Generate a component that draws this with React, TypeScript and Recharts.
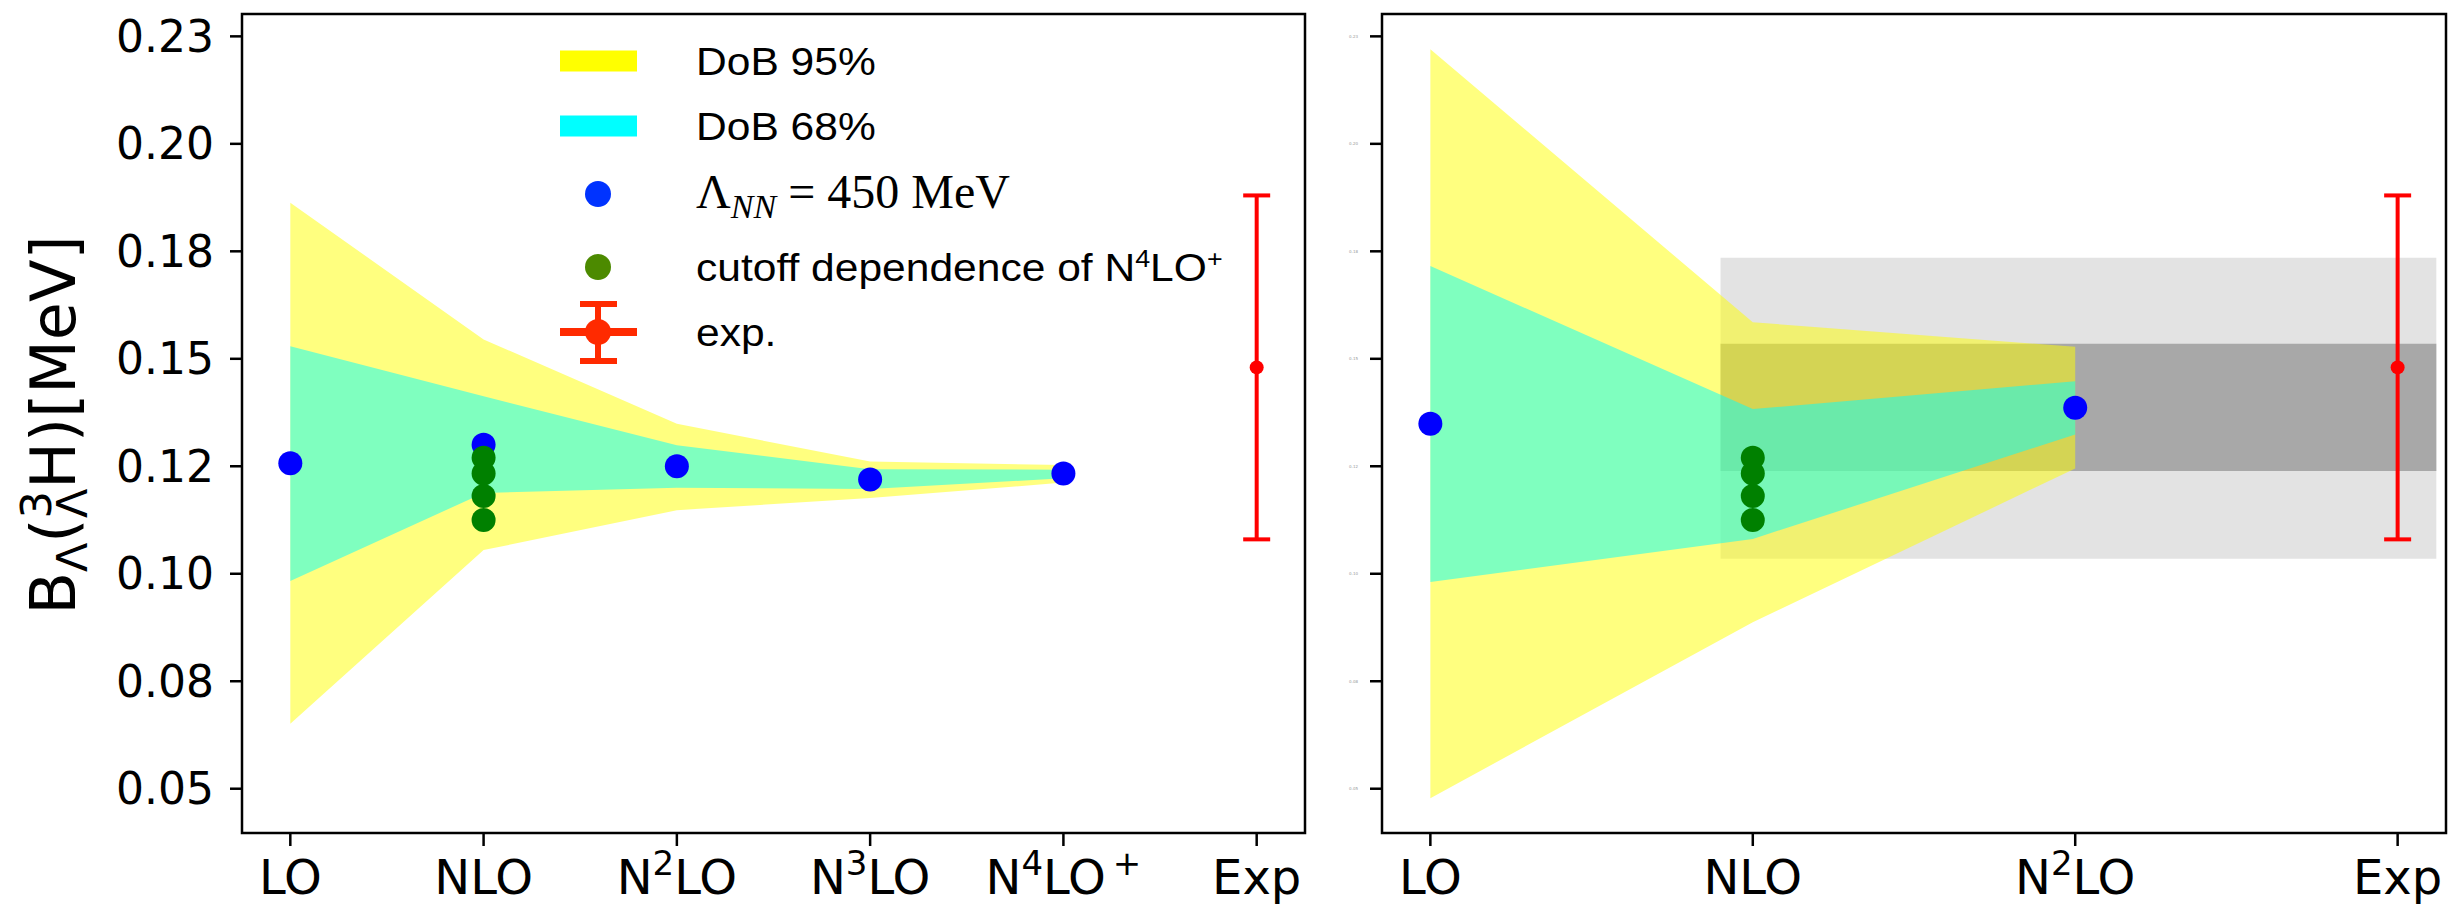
import React from "react";
import {
  Area,
  ComposedChart,
  ErrorBar,
  ReferenceArea,
  Scatter,
  XAxis,
  YAxis,
} from "recharts";

const FONT = "DejaVu Sans, sans-serif";
const LEGEND_FONT = "Liberation Sans, Arial, sans-serif";

/* ============ data ============ */

// orders on the x axis ("^" marks a superscript character)
const leftOrders = ["LO", "NLO", "N^2LO", "N^3LO", "N^4LO^+", "Exp"];
const rightOrders = ["LO", "NLO", "N^2LO", "Exp"];

const yTicks = [0.05, 0.075, 0.1, 0.125, 0.15, 0.175, 0.2, 0.225];
const yTickLabels = ["0.05", "0.08", "0.10", "0.12", "0.15", "0.18", "0.20", "0.23"];
const yDomain = [0.0397, 0.2302];

// Λ_NN = 450 MeV results, LO .. N4LO+
const leftCentral = [0.1257, 0.13, 0.125, 0.1219, 0.1233];
const leftDob95Low = [0.0651, 0.1055, 0.1148, 0.1176, 0.1212];
const leftDob95High = [0.1863, 0.1545, 0.1349, 0.1261, 0.1253];
const leftDob68Low = [0.0983, 0.1188, 0.12, 0.1197, 0.1222];
const leftDob68High = [0.1529, 0.1413, 0.1299, 0.1243, 0.1242];

// N4LO+ for the other cutoffs, drawn at the NLO position
const cutoffN4LO = [0.127, 0.1233, 0.1181, 0.1125];

// right panel: LO .. N2LO
const rightCentralOrder = [0, 2];
const rightCentral = [0.1349, 0.1386];
const rightDob95Low = [0.0478, 0.0887, 0.1245];
const rightDob95High = [0.222, 0.1585, 0.1528];
const rightDob68Low = [0.0981, 0.1081, 0.1324];
const rightDob68High = [0.1716, 0.1383, 0.1448];

// grey boxes behind the right panel bands
const greyBoxX = [0.9, 3.12];
const greyOuter = [0.1035, 0.1735];
const greyInner = [0.1239, 0.1535];

const expValue = 0.148;
const expError = 0.04;

/* ============ helpers ============ */

const leftRows = leftCentral.map((_, i) => ({
  x: i,
  dob95: [leftDob95Low[i], leftDob95High[i]],
  dob68: [leftDob68Low[i], leftDob68High[i]],
}));

const rightRows = [
  ...rightDob95Low.map((lo, i) => ({
    x: i,
    dob95: [lo, rightDob95High[i]],
    dob68: [rightDob68Low[i], rightDob68High[i]],
  })),
  ...greyBoxX.map((x) => ({ x, outer: greyOuter, inner: greyInner })),
].sort((a, b) => a.x - b.x);

const leftPoints = leftCentral.map((y, i) => ({ x: i, y }));
const rightPoints = rightCentral.map((y, i) => ({ x: rightCentralOrder[i], y }));
const cutoffPoints = cutoffN4LO.map((y) => ({ x: 1, y }));

const dot = (r: number, fill: string) => (p: any) =>
  <circle cx={p.cx} cy={p.cy} r={r} fill={fill} />;

function splitSup(label: string) {
  const parts: { text: string; sup: boolean }[] = [];
  for (let i = 0; i < label.length; i++) {
    if (label[i] === "^") {
      parts.push({ text: label[i + 1], sup: true });
      i++;
    } else if (parts.length && !parts[parts.length - 1].sup) {
      parts[parts.length - 1].text += label[i];
    } else {
      parts.push({ text: label[i], sup: false });
    }
  }
  return parts;
}

function OrderTick(props: any) {
  const { x, y, payload, labels } = props;
  const parts = splitSup(labels[payload.value] ?? "");
  let level = 0;
  // baseline sits one cap height below the tick label position
  return (
    <text x={x} y={y + 34} textAnchor="middle" fontFamily={FONT} fontSize={48} fill="#000">
      {parts.map((p, i) => {
        const target = p.sup ? -19 : 0;
        const dy = target - level;
        level = target;
        return (
          <tspan key={i} dy={dy} dx={p.sup && p.text === "+" ? 7 : 0} fontSize={p.sup ? 34 : 48}>
            {p.text}
          </tspan>
        );
      })}
    </text>
  );
}

const axisStroke = { stroke: "#000", strokeWidth: 2.5 };

/* ============ panels ============ */

function Panel({
  rows,
  orders,
  points,
  width,
  yAxisWidth,
  right,
  tiny,
  withGrey,
}: {
  rows: any[];
  orders: string[];
  points: { x: number; y: number }[];
  width: number;
  yAxisWidth: number;
  right: number;
  tiny: boolean;
  withGrey: boolean;
}) {
  const last = orders.length - 1;
  const pad = last === 5 ? 0.25 : 0.15;
  const xDomain = [-pad, last + pad];
  return (
    <ComposedChart
      width={width}
      height={904}
      data={rows}
      margin={{ top: 14, right, bottom: 0, left: 0 }}
    >
      <XAxis
        dataKey="x"
        type="number"
        domain={xDomain}
        ticks={orders.map((_, i) => i)}
        interval={0}
        allowDataOverflow
        axisLine={false}
        tickLine={axisStroke}
        tickSize={13}
        tickMargin={14}
        height={71}
        tick={<OrderTick labels={orders} />}
      />
      <YAxis
        dataKey="y"
        type="number"
        domain={yDomain}
        ticks={yTicks}
        interval={0}
        allowDataOverflow
        width={yAxisWidth}
        axisLine={false}
        tickLine={axisStroke}
        tickSize={12}
        tickMargin={tiny ? 12 : 16}
        tickFormatter={(v: number) => yTickLabels[yTicks.indexOf(v)]}
        tick={
          tiny
            ? { fontSize: 4, fill: "#999", fontFamily: FONT }
            : { fontSize: 44, fill: "#000", fontFamily: FONT }
        }
      />
      {withGrey && (
        <Area
          dataKey="outer"
          type="linear"
          fill="#e3e3e3"
          fillOpacity={1}
          stroke="none"
          connectNulls
          isAnimationActive={false}
        />
      )}
      {withGrey && (
        <Area
          dataKey="inner"
          type="linear"
          fill="#a8a8a8"
          fillOpacity={1}
          stroke="none"
          connectNulls
          isAnimationActive={false}
        />
      )}
      <Area
        dataKey="dob95"
        type="linear"
        fill="#ffff00"
        fillOpacity={0.5}
        stroke="none"
        connectNulls
        isAnimationActive={false}
      />
      <Area
        dataKey="dob68"
        type="linear"
        fill="#00ffff"
        fillOpacity={0.5}
        stroke="none"
        connectNulls
        isAnimationActive={false}
      />
      <Scatter data={points} shape={dot(12, "#0000ff")} isAnimationActive={false} />
      <Scatter data={cutoffPoints} shape={dot(12, "#008000")} isAnimationActive={false} />
      <Scatter
        data={[{ x: last, y: expValue, err: expError }]}
        shape={dot(7, "#ff0000")}
        isAnimationActive={false}
      >
        <ErrorBar
          dataKey="err"
          direction="y"
          width={13.5}
          stroke="#ff0000"
          strokeWidth={4}
          isAnimationActive={false}
        />
      </Scatter>
      <ReferenceArea
        x1={xDomain[0]}
        x2={xDomain[1]}
        y1={yDomain[0]}
        y2={yDomain[1]}
        fill="none"
        stroke="#000"
        strokeWidth={2.5}
        ifOverflow="visible"
      />
    </ComposedChart>
  );
}

/* ============ legend + axis title ============ */

function Overlay() {
  const txt = (y: number, children: React.ReactNode) => (
    <text
      transform={`translate(696, ${y}) scale(1.12, 1)`}
      fontFamily={LEGEND_FONT}
      fontSize={38}
      fill="#000"
    >
      {children}
    </text>
  );
  return (
    <svg
      width={2457}
      height={904}
      style={{ position: "absolute", left: 0, top: 0, pointerEvents: "none" }}
    >
      {/* y axis title */}
      <text
        x={75}
        y={425}
        transform="rotate(-90 75 425)"
        textAnchor="middle"
        fontFamily={FONT}
        fontSize={62}
        fill="#000"
      >
        B
        <tspan dy={12} fontSize={43}>Λ</tspan>
        <tspan dy={-12}>(</tspan>
        <tspan dy={-24} fontSize={43}>3</tspan>
        <tspan dy={36} dx={-27} fontSize={43}>Λ</tspan>
        <tspan dy={-12}>H)[MeV]</tspan>
      </text>

      {/* legend */}
      <rect x={560} y={50.5} width={77} height={21} fill="#ffff00" />
      {txt(75, "DoB 95%")}
      <rect x={560} y={115.5} width={77} height={21} fill="#00ffff" />
      {txt(140, "DoB 68%")}
      <circle cx={598} cy={194} r={13} fill="#0033ff" />
      <text
        x={696}
        y={208}
        fontFamily="Liberation Serif, Times New Roman, serif"
        fontSize={48}
        fill="#000"
      >
        Λ
        <tspan dy={10} fontSize={34} fontStyle="italic">NN</tspan>
        <tspan dy={-10}>{" = 450 MeV"}</tspan>
      </text>
      <circle cx={598} cy={267} r={13} fill="#4c8a00" />
      {txt(
        281,
        <>
          cutoff dependence of N
          <tspan dy={-14} fontSize={24}>4</tspan>
          <tspan dy={14}>LO</tspan>
          <tspan dy={-14} fontSize={24}>+</tspan>
        </>
      )}
      <line x1={560} x2={637} y1={332} y2={332} stroke="#ff2a00" strokeWidth={8} />
      <line x1={598} x2={598} y1={304} y2={361} stroke="#ff2a00" strokeWidth={6} />
      <line x1={580} x2={617} y1={304} y2={304} stroke="#ff2a00" strokeWidth={6} />
      <line x1={580} x2={617} y1={361} y2={361} stroke="#ff2a00" strokeWidth={6} />
      <circle cx={598} cy={332} r={13} fill="#ff2a00" />
      {txt(346, "exp.")}
    </svg>
  );
}

export default function App() {
  return (
    <div
      style={{
        position: "absolute",
        left: 0,
        top: 0,
        width: 2457,
        height: 904,
        background: "#fff",
        overflow: "hidden",
      }}
    >
      <div style={{ position: "absolute", left: 0, top: 0 }}>
        <Panel
          rows={leftRows}
          orders={leftOrders}
          points={leftPoints}
          width={1320}
          yAxisWidth={242}
          right={15}
          tiny={false}
          withGrey={false}
        />
      </div>
      <div style={{ position: "absolute", left: 1320, top: 0 }}>
        <Panel
          rows={rightRows}
          orders={rightOrders}
          points={rightPoints}
          width={1137}
          yAxisWidth={62}
          right={11}
          tiny
          withGrey
        />
      </div>
      <Overlay />
    </div>
  );
}
